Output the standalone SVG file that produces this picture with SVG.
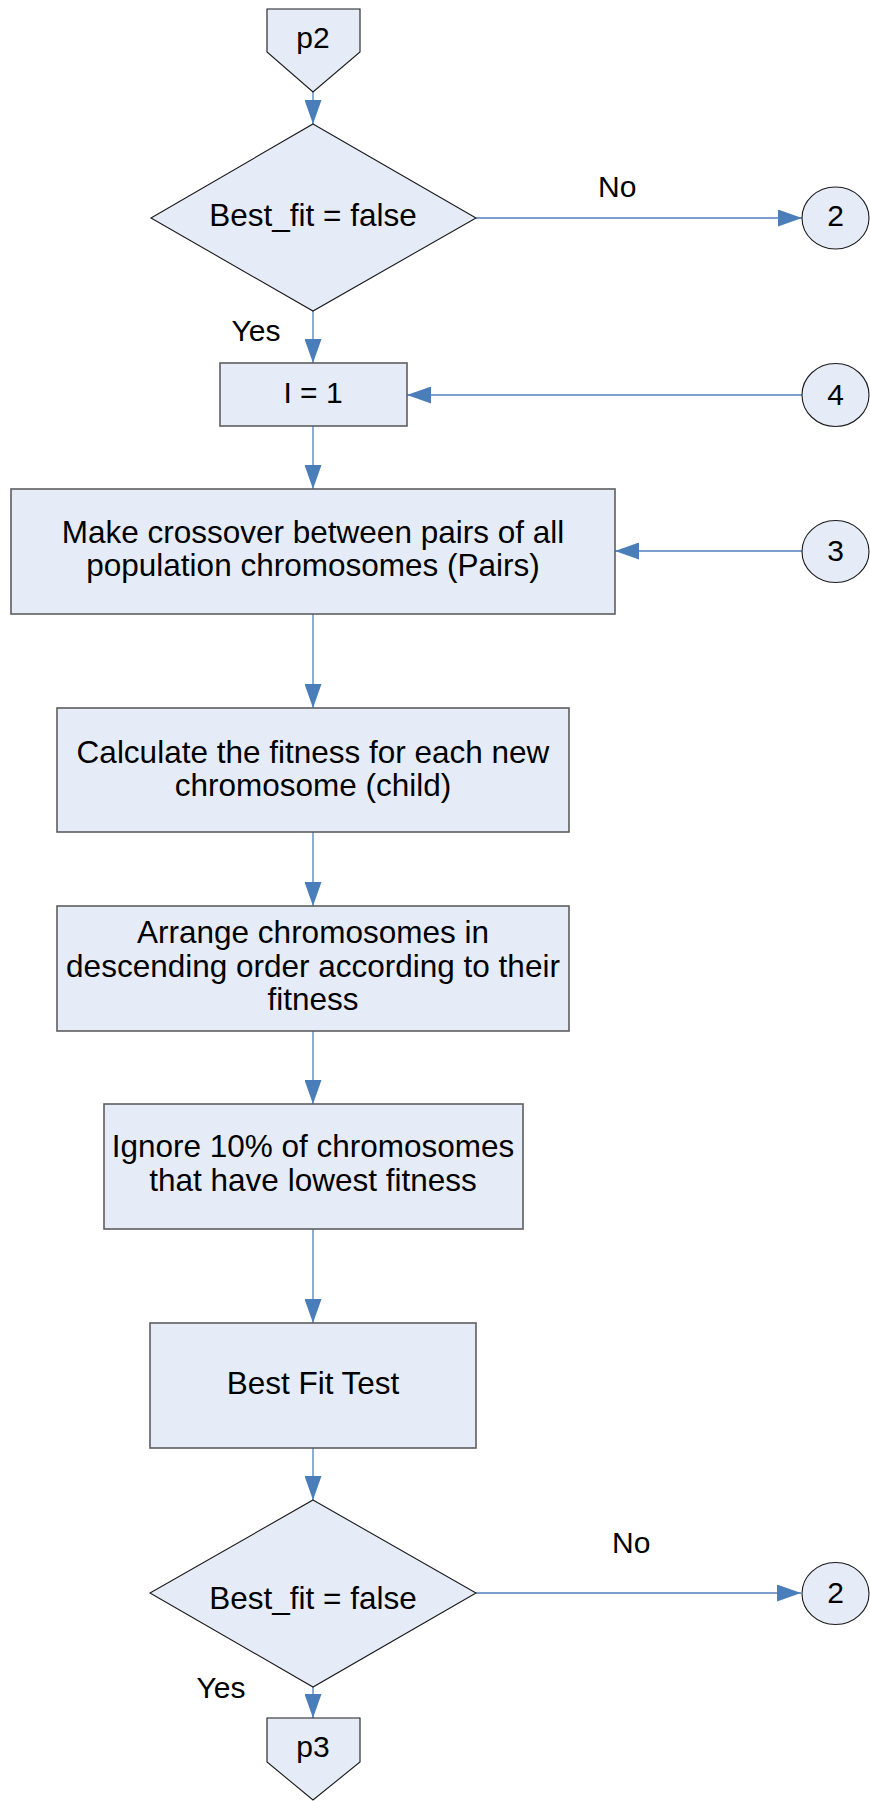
<svg xmlns="http://www.w3.org/2000/svg" width="870" height="1801" viewBox="0 0 870 1801">
  <style>
    .box { fill: #e6ecf7; stroke: #5e5e5e; stroke-width: 1.6; }
    .shape { fill: #e6ecf7; stroke: #1a1a1a; stroke-width: 1.1; }
    .edge { fill: none; stroke: #4f81bd; stroke-width: 1.3; }
    text { font-family: "Liberation Sans", Arial, sans-serif; font-size: 30px; fill: #000; }
    .lbl { font-size: 31.5px; }
    .c { text-anchor: middle; }
  </style>
  <defs>
    <marker id="arrow" markerUnits="userSpaceOnUse" markerWidth="24" markerHeight="17" refX="24" refY="8.5" orient="auto">
      <path d="M0,0 L24,8.5 L0,17 z" fill="#4a7ebb"/>
    </marker>
  </defs>
  <rect width="870" height="1801" fill="#ffffff"/>

  <!-- connectors -->
  <g id="connectors">
    <line class="edge" x1="313" y1="92" x2="313" y2="124" marker-end="url(#arrow)"/>
    <line class="edge" x1="476" y1="218" x2="802" y2="218" marker-end="url(#arrow)"/>
    <line class="edge" x1="313" y1="311" x2="313" y2="363" marker-end="url(#arrow)"/>
    <line class="edge" x1="802" y1="395" x2="407" y2="395" marker-end="url(#arrow)"/>
    <line class="edge" x1="313" y1="426" x2="313" y2="489" marker-end="url(#arrow)"/>
    <line class="edge" x1="802" y1="551" x2="615" y2="551" marker-end="url(#arrow)"/>
    <line class="edge" x1="313" y1="614" x2="313" y2="708" marker-end="url(#arrow)"/>
    <line class="edge" x1="313" y1="832" x2="313" y2="906" marker-end="url(#arrow)"/>
    <line class="edge" x1="313" y1="1031" x2="313" y2="1104" marker-end="url(#arrow)"/>
    <line class="edge" x1="313" y1="1229" x2="313" y2="1323" marker-end="url(#arrow)"/>
    <line class="edge" x1="313" y1="1448" x2="313" y2="1500" marker-end="url(#arrow)"/>
    <line class="edge" x1="476" y1="1593" x2="801" y2="1593" marker-end="url(#arrow)"/>
    <line class="edge" x1="313" y1="1687" x2="313" y2="1718" marker-end="url(#arrow)"/>
    <text x="598" y="197">No</text>
    <text class="c" x="256" y="341">Yes</text>
    <text x="612" y="1553">No</text>
    <text class="c" x="221" y="1698">Yes</text>
  </g>

  <!-- off-page reference p2 -->
  <g id="p2">
    <polygon class="shape" points="267,9 360,9 360,52 313,92 267,52"/>
    <text class="c" x="313" y="48">p2</text>
  </g>

  <!-- first decision -->
  <g id="decision1">
    <polygon class="shape" points="313,124 476,218 313,311 151,218"/>
    <text class="c lbl" x="313" y="226">Best_fit = false</text>
  </g>

  <g id="conn2a">
    <ellipse class="shape" cx="835.5" cy="218" rx="33.5" ry="31"/>
    <text class="c" x="835.5" y="226">2</text>
  </g>

  <g id="init">
    <rect class="box" x="220" y="363" width="187" height="63"/>
    <text class="c" x="313" y="403">I = 1</text>
  </g>

  <g id="conn4">
    <ellipse class="shape" cx="835.5" cy="395" rx="33.5" ry="31.5"/>
    <text class="c" x="835.5" y="405">4</text>
  </g>

  <g id="crossover">
    <rect class="box" x="11" y="489" width="604" height="125"/>
    <text class="c lbl" x="313" y="543">Make crossover between pairs of all</text>
    <text class="c lbl" x="313" y="576">population chromosomes (Pairs)</text>
  </g>

  <g id="conn3">
    <ellipse class="shape" cx="835.5" cy="551.5" rx="33.5" ry="31"/>
    <text class="c" x="835.5" y="561">3</text>
  </g>

  <g id="fitness">
    <rect class="box" x="57" y="708" width="512" height="124"/>
    <text class="c lbl" x="313" y="763">Calculate the fitness for each new</text>
    <text class="c lbl" x="313" y="796">chromosome (child)</text>
  </g>

  <g id="arrange">
    <rect class="box" x="57" y="906" width="512" height="125"/>
    <text class="c lbl" x="313" y="943">Arrange chromosomes in</text>
    <text class="c lbl" x="313" y="977">descending order according to their</text>
    <text class="c lbl" x="313" y="1010">fitness</text>
  </g>

  <g id="ignore">
    <rect class="box" x="104" y="1104" width="419" height="125"/>
    <text class="c lbl" x="313" y="1157">Ignore 10% of chromosomes</text>
    <text class="c lbl" x="313" y="1191">that have lowest fitness</text>
  </g>

  <g id="bestfit">
    <rect class="box" x="150" y="1323" width="326" height="125"/>
    <text class="c lbl" x="313" y="1394">Best Fit Test</text>
  </g>

  <g id="decision2">
    <polygon class="shape" points="313,1500 476,1593 313,1687 150,1593"/>
    <text class="c lbl" x="313" y="1609">Best_fit = false</text>
  </g>

  <g id="conn2b">
    <ellipse class="shape" cx="835.5" cy="1593.5" rx="33.5" ry="31"/>
    <text class="c" x="835.5" y="1603">2</text>
  </g>

  <!-- off-page reference p3 -->
  <g id="p3">
    <polygon class="shape" points="267,1718 360,1718 360,1762 313,1800 267,1762"/>
    <text class="c" x="313" y="1757">p3</text>
  </g>
</svg>
